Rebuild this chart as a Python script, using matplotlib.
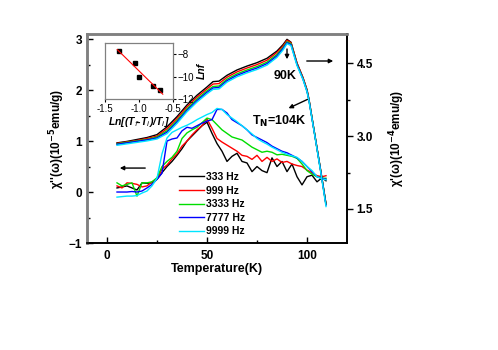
import matplotlib
matplotlib.use("Agg")
import matplotlib.pyplot as plt
import numpy as np

plt.rcParams['font.family'] = ['Liberation Sans', 'DejaVu Sans']
plt.rcParams['mathtext.fontset'] = 'dejavusans'

# ---------------- data ----------------
freq_labels = ["333 Hz", "999 Hz", "3333 Hz", "7777 Hz", "9999 Hz"]
colors = ["#000000", "#ff0000", "#00dd00", "#0000ff", "#00e5ff"]

# chi' (right axis, 1e-4 emu/g)
T1 = [5, 10, 15, 20, 25, 30, 35, 40, 45, 50, 53, 56, 60, 65, 70, 75, 80, 85, 88, 90, 92, 95, 98, 100, 101, 104, 107, 109.5]
chi1_333 = [2.86, 2.89, 2.93, 2.97, 3.03, 3.19, 3.40, 3.64, 3.84, 4.01, 4.12, 4.13, 4.25, 4.36, 4.44, 4.51, 4.60, 4.75, 4.88, 4.99, 4.93, 4.50, 4.20, 3.95, 3.75, 3.00, 2.25, 1.60]
chi1_999 = [2.85, 2.88, 2.91, 2.95, 3.00, 3.15, 3.36, 3.60, 3.80, 3.97, 4.07, 4.08, 4.21, 4.32, 4.40, 4.47, 4.56, 4.72, 4.85, 4.97, 4.92, 4.50, 4.20, 3.95, 3.75, 3.00, 2.25, 1.60]
chi1_3333 = [2.84, 2.87, 2.90, 2.93, 2.98, 3.11, 3.32, 3.56, 3.76, 3.93, 4.02, 4.03, 4.17, 4.28, 4.36, 4.43, 4.52, 4.68, 4.82, 4.94, 4.90, 4.48, 4.18, 3.93, 3.74, 3.00, 2.25, 1.60]
chi1_7777 = [2.83, 2.86, 2.89, 2.92, 2.96, 3.08, 3.29, 3.53, 3.73, 3.90, 3.99, 4.00, 4.14, 4.25, 4.33, 4.40, 4.49, 4.65, 4.80, 4.92, 4.88, 4.47, 4.17, 3.92, 3.73, 2.99, 2.24, 1.58]
chi1_9999 = [2.81, 2.84, 2.87, 2.90, 2.94, 3.05, 3.26, 3.50, 3.70, 3.87, 3.96, 3.97, 4.11, 4.22, 4.30, 4.37, 4.46, 4.62, 4.77, 4.90, 4.86, 4.45, 4.16, 3.91, 3.72, 2.98, 2.22, 1.55]

# chi'' (left axis, 1e-5 emu/g)
T2 = [5, 7.5, 10, 12.5, 15, 17.5, 20, 22.5, 25, 27.5, 30, 32.5, 35, 37.5, 40, 42.5, 45, 47.5, 50, 52.5,
      55, 57.5, 60, 62.5, 65, 67.5, 70, 72.5, 75, 77.5, 80, 82.5, 85, 87.5, 90, 92.5, 95, 97.5, 100, 102.5,
      105, 107.5, 109.5]
chi2_333 = [0.08, 0.10, 0.12, 0.08, 0.04, 0.18, 0.17, 0.18, 0.25, 0.38, 0.50, 0.60, 0.72, 0.85, 1.00, 1.10, 1.20, 1.30, 1.37, 1.15,
            0.95, 0.80, 0.60, 0.70, 0.76, 0.60, 0.57, 0.40, 0.50, 0.42, 0.38, 0.67, 0.50, 0.60, 0.40, 0.55, 0.30, 0.14, 0.30, 0.33,
            0.20, 0.28, 0.22]
chi2_999 = [0.12, 0.08, 0.18, 0.17, 0.15, 0.10, 0.12, 0.20, 0.25, 0.45, 0.53, 0.65, 0.75, 0.90, 1.00, 1.12, 1.22, 1.30, 1.43, 1.25,
            1.05, 0.98, 0.92, 0.86, 0.80, 0.72, 0.70, 0.64, 0.72, 0.60, 0.68, 0.60, 0.65, 0.58, 0.60, 0.55, 0.52, 0.50, 0.43, 0.38,
            0.32, 0.30, 0.32]
chi2_3333 = [0.18, 0.12, 0.15, 0.18, -0.08, 0.18, 0.18, 0.20, 0.28, 0.50, 0.60, 0.68, 0.80, 1.05, 1.16, 1.22, 1.27, 1.36, 1.45, 1.42,
             1.32, 1.22, 1.15, 1.08, 1.05, 1.02, 0.95, 0.88, 0.83, 0.78, 0.80, 0.78, 0.73, 0.74, 0.72, 0.70, 0.66, 0.55, 0.42, 0.35,
             0.30, 0.27, 0.27]
chi2_7777 = [0.00, 0.00, 0.00, 0.01, 0.00, 0.02, 0.08, 0.15, 0.25, 0.37, 1.00, 1.04, 1.06, 1.20, 1.27, 1.25, 1.30, 1.35, 1.39, 1.42,
             1.62, 1.62, 1.55, 1.42, 1.36, 1.30, 1.22, 1.12, 1.07, 1.02, 0.97, 0.90, 0.85, 0.80, 0.77, 0.72, 0.67, 0.60, 0.50, 0.40,
             0.30, 0.27, 0.25]
chi2_9999 = [-0.10, -0.09, -0.08, -0.08, -0.07, -0.02, 0.02, 0.12, 0.27, 0.75, 1.06, 1.17, 1.22, 1.27, 1.31, 1.36, 1.42, 1.47, 1.52, 1.56,
             1.64, 1.62, 1.52, 1.45, 1.38, 1.30, 1.22, 1.14, 1.05, 0.99, 0.94, 0.88, 0.83, 0.78, 0.74, 0.71, 0.68, 0.60, 0.50, 0.42,
             0.30, 0.26, 0.24]

# inset
inset_x = [-1.29, -1.055, -0.996, -0.79, -0.687]
inset_y = [-7.71, -8.81, -10.0, -10.84, -11.16]

chi1_all = [chi1_333, chi1_999, chi1_3333, chi1_7777, chi1_9999]
chi2_all = [chi2_333, chi2_999, chi2_3333, chi2_7777, chi2_9999]

# ---------------- figure ----------------
fig = plt.figure(figsize=(4.98, 3.50), dpi=100)
ax = fig.add_axes([0.1747, 0.3057, 0.5221, 0.5972])
ax2 = ax.twinx()

handles = []
for c, lab, y2 in zip(colors, freq_labels, chi2_all):
    h, = ax.plot(T2, y2, color=c, lw=1.0, label=lab)
    handles.append(h)
for c, y1 in zip(colors, chi1_all):
    ax2.plot(T1, y1, color=c, lw=1.0)

ax.set_xlim(-10, 120)
ax.set_ylim(-1, 3.1)
ax2.set_ylim(0.8, 5.1)

ax.set_xticks([0, 50, 100])
ax.set_xticks([25, 75], minor=True)
ax.set_yticks([-1, 0, 1, 2, 3])
ax.set_yticks([-0.5, 0.5, 1.5, 2.5], minor=True)
ax2.set_yticks([1.5, 3.0, 4.5])
ax2.set_yticklabels(["1.5", "3.0", "4.5"])
ax2.set_yticks([2.25, 3.75], minor=True)

for a in (ax, ax2):
    a.tick_params(which='major', direction='in', length=4, width=1, labelsize=8.5)
    a.tick_params(which='minor', direction='in', length=2.5, width=1)
    for lbl in a.get_xticklabels() + a.get_yticklabels():
        lbl.set_fontweight('bold')
ax.tick_params(axis='x', pad=5)
ax2.tick_params(axis='y', which='both', direction='out', pad=3)

for a in (ax, ax2):
    a.spines['top'].set_color('#808080')
    a.spines['top'].set_linewidth(1.8)
    a.spines['left'].set_color('#808080')
    a.spines['left'].set_linewidth(1.8)
    a.spines['bottom'].set_color('black')
    a.spines['bottom'].set_linewidth(1.2)
    a.spines['right'].set_color('black')
    a.spines['right'].set_linewidth(1.2)

ax.set_xlabel("Temperature(K)", fontsize=9, fontweight='bold', labelpad=1)
ax.set_ylabel(r"χ''(ω)(10$^{\mathbf{-5}}$emu/g)", fontsize=8.5, fontweight='bold', labelpad=1)
ax2.set_ylabel(r"χ'(ω)(10$^{\mathbf{-4}}$emu/g)", fontsize=8.5, fontweight='bold', labelpad=10)

leg = ax.legend(handles=handles, loc='upper left', bbox_to_anchor=(0.325, 0.375),
                frameon=False, fontsize=7.5, handlelength=2.4, handletextpad=0.2,
                labelspacing=0.35, borderpad=0.2)
for t in leg.get_texts():
    t.set_fontweight('bold')

# annotations (data coords of left axis)
arrowprops = dict(arrowstyle='-|>', color='black', lw=1.0, mutation_scale=6)
ax.annotate("", xy=(90, 2.55), xytext=(90, 2.86), arrowprops=arrowprops)
ax.annotate("", xy=(114.5, 2.57), xytext=(98.5, 2.57), arrowprops=arrowprops)
ax.text(89, 2.28, "90K", ha='center', va='center', fontsize=9, fontweight='bold')
ax.annotate("", xy=(89.5, 1.62), xytext=(101.5, 1.84), arrowprops=arrowprops)
ax.text(86, 1.38, r"T$_{\mathbf{N}}$=104K", ha='center', va='center', fontsize=9, fontweight='bold')
ax.annotate("", xy=(5, 0.47), xytext=(20.5, 0.47), arrowprops=arrowprops)

# inset
axin = fig.add_axes([0.2108, 0.7171, 0.1366, 0.1600])
axin.plot(inset_x, inset_y, 's', color='black', ms=3)
coef = np.polyfit(inset_x, inset_y, 1)
fx = np.array([-1.32, -0.65])
axin.plot(fx, np.polyval(coef, fx), color='red', lw=0.8)
axin.set_xlim(-1.5, -0.5)
axin.set_ylim(-12, -7)
axin.set_xticks([-1.5, -1.0, -0.5])
axin.set_xticklabels(["-1.5", "-1.0", "-0.5"])
axin.set_yticks([-8, -10, -12])
axin.yaxis.tick_right()
axin.yaxis.set_label_position('right')
axin.tick_params(direction='out', length=2.5, width=0.8, labelsize=7, pad=1)
for s in axin.spines.values():
    s.set_color('#808080')
    s.set_linewidth(0.9)
axin.set_xlabel(r"Ln[(T$_f$-T$_i$)/T$_i$]", fontsize=7.5, fontweight='bold',
                style='italic', labelpad=1)
axin.set_ylabel("Lnf", fontsize=7.5, fontweight='bold', style='italic', labelpad=2)

fig.savefig("out.png", dpi=100)
